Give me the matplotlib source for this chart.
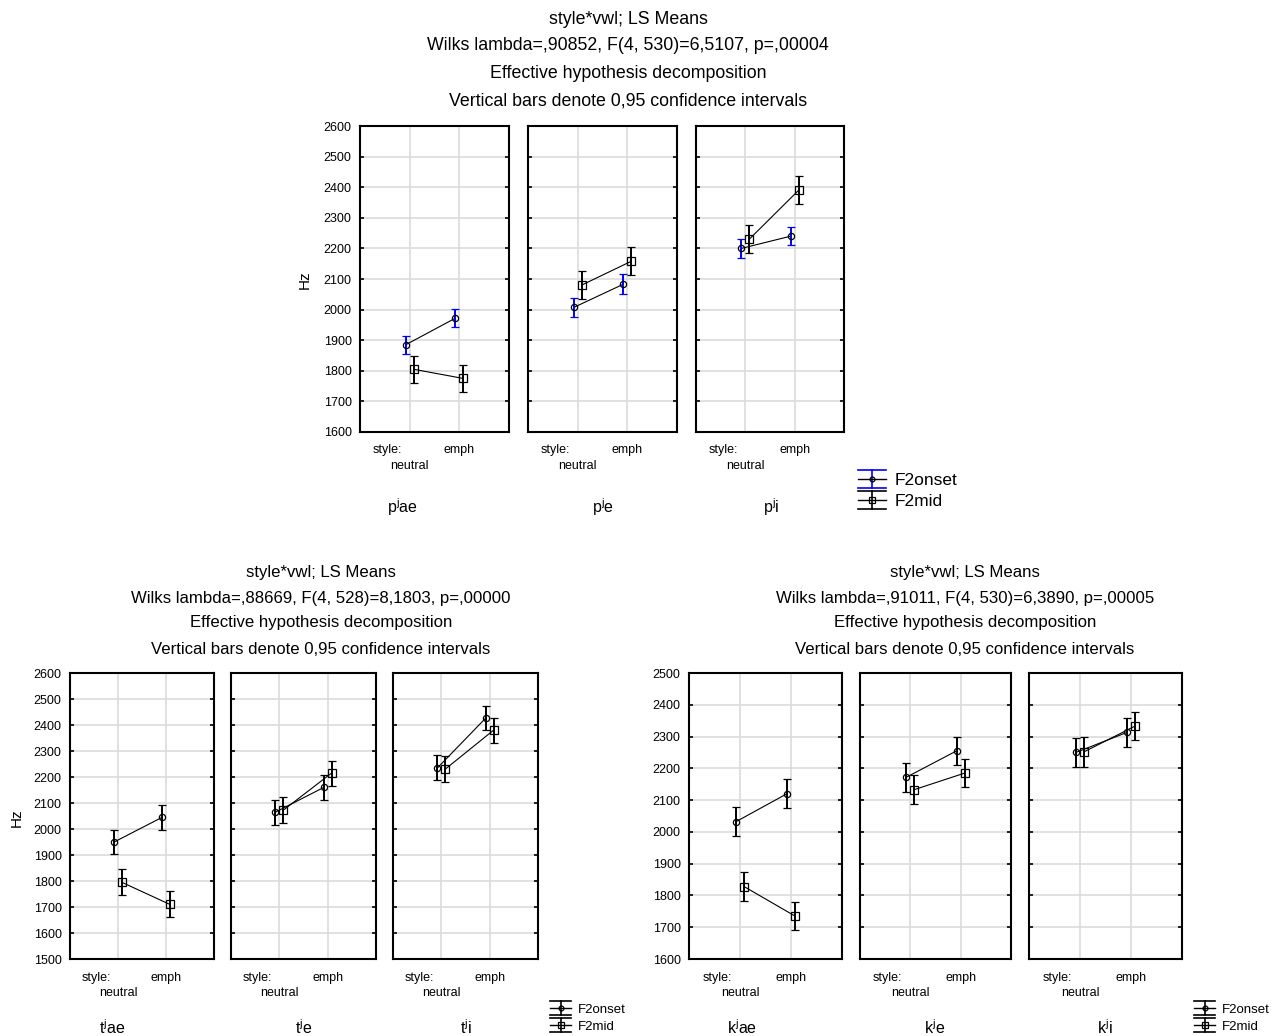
import numpy as np
import matplotlib.pyplot as plt
from matplotlib.legend_handler import HandlerBase
from matplotlib.lines import Line2D

plt.rcParams['font.family'] = ['Liberation Sans', 'DejaVu Sans']
plt.rcParams['mathtext.fontset'] = 'custom'
plt.rcParams['mathtext.rm'] = 'Liberation Sans'

styles = ['neutral', 'emph']
series = ['F2onset', 'F2mid']

# p group
p_vowels = [r'$\mathregular{p^jae}$', r'$\mathregular{p^je}$', r'$\mathregular{p^j i}$']
p_onset = [[1885, 1972], [2007, 2083], [2200, 2240]]
p_onset_ci = [[30, 30], [30, 32], [30, 30]]
p_mid = [[1805, 1775], [2080, 2158], [2230, 2390]]
p_mid_ci = [[45, 45], [45, 45], [45, 45]]
p_title = ['style*vwl; LS Means',
           'Wilks lambda=,90852, F(4, 530)=6,5107, p=,00004',
           'Effective hypothesis decomposition',
           'Vertical bars denote 0,95 confidence intervals']

# t group
t_vowels = [r'$\mathregular{t^jae}$', r'$\mathregular{t^je}$', r'$\mathregular{t^ji}$']
t_onset = [[1950, 2045], [2065, 2160], [2235, 2427]]
t_onset_ci = [[47, 48], [48, 48], [48, 48]]
t_mid = [[1795, 1710], [2072, 2215], [2230, 2380]]
t_mid_ci = [[50, 50], [50, 48], [50, 48]]
t_title = ['style*vwl; LS Means',
           'Wilks lambda=,88669, F(4, 528)=8,1803, p=,00000',
           'Effective hypothesis decomposition',
           'Vertical bars denote 0,95 confidence intervals']

# k group
k_vowels = [r'$\mathregular{k^jae}$', r'$\mathregular{k^je}$', r'$\mathregular{k^j i}$']
k_onset = [[2032, 2120], [2172, 2255], [2250, 2313]]
k_onset_ci = [[45, 45], [45, 45], [45, 45]]
k_mid = [[1828, 1735], [2133, 2185], [2252, 2333]]
k_mid_ci = [[45, 45], [45, 45], [48, 45]]
k_title = ['style*vwl; LS Means',
           'Wilks lambda=,91011, F(4, 530)=6,3890, p=,00005',
           'Effective hypothesis decomposition',
           'Vertical bars denote 0,95 confidence intervals']

W, H = 1277, 1036
fig = plt.figure(figsize=(W / 100, H / 100), dpi=100)


def fx(px):
    return px / W


def fy(py):
    return 1 - py / H


class ErrHandler(HandlerBase):
    # legend symbol: wide caps, vertical bar, marker on a line
    def __init__(self, color, marker, ms):
        super().__init__()
        self.color = color
        self.marker = marker
        self.ms = ms

    def create_artists(self, legend, orig, xd, yd, width, height, fontsize, trans):
        cy = height / 2 - yd
        x0, x1 = -xd, -xd + width
        cx = (x0 + x1) / 2
        arts = []
        for dy in (-height * 0.75, height * 0.75):
            arts.append(Line2D([x0, x1], [cy + dy, cy + dy], color=self.color, lw=1.2))
        arts.append(Line2D([cx, cx], [cy - height * 0.75, cy + height * 0.75], color=self.color, lw=1.2))
        arts.append(Line2D([x0, x1], [cy, cy], color='black', lw=1.0))
        arts.append(Line2D([cx], [cy], color='black', marker=self.marker, ms=self.ms,
                           mfc='none', mew=0.9))
        for a in arts:
            a.set_transform(trans)
        return arts


def draw_group(lefts, widths, top, bottom, ylim, onset, onset_ci, mid, mid_ci,
               vowels, label_x, label_y, onset_col, ylabel_pos, title, title_x,
               title_y, title_fs, leg_pos, leg_fs, tick_fs):
    axes = []
    for i in range(3):
        ax = fig.add_axes([fx(lefts[i]), fy(bottom), fx(widths[i]), (bottom - top) / H])
        x = np.arange(2)
        ax.plot(x - 0.08, onset[i], color='black', lw=0.8, zorder=3)
        ax.errorbar(x - 0.08, onset[i], yerr=onset_ci[i], fmt='o', ms=4.5, mfc='none',
                    mec='black', mew=0.9, ecolor=onset_col, elinewidth=1.4,
                    capsize=3, capthick=1.4, zorder=4)
        ax.plot(x + 0.08, mid[i], color='black', lw=0.8, zorder=3)
        ax.errorbar(x + 0.08, mid[i], yerr=mid_ci[i], fmt='s', ms=6, mfc='none',
                    mec='black', mew=0.9, ecolor='black', elinewidth=1.4,
                    capsize=3, capthick=1.4, zorder=4)
        ax.set_xlim(-1, 2)
        ax.set_ylim(*ylim)
        ax.set_yticks(np.arange(ylim[0], ylim[1] + 1, 100))
        # major ticks: grid + "neutral" on the second row
        ax.set_xticks(x)
        ax.set_xticklabels([styles[0], ''], fontsize=tick_fs)
        # minor ticks: "style:" and "emph" on the first row
        ax.xaxis.remove_overlapping_locs = False
        ax.set_xticks([-0.45, 1], minor=True)
        ax.set_xticklabels(['style:', styles[1]], minor=True, fontsize=tick_fs)
        ax.tick_params(axis='x', which='major', length=0, pad=20)
        ax.tick_params(axis='x', which='minor', length=0, pad=9)
        ax.tick_params(axis='y', direction='in', length=3, width=1.2, right=True,
                       labelsize=tick_fs, pad=6)
        if i > 0:
            ax.tick_params(axis='y', labelleft=False)
        ax.grid(True, which='major', color='#dcdcdc', lw=1.2)
        ax.set_axisbelow(True)
        for s in ax.spines.values():
            s.set_linewidth(1.5)
        fig.text(fx(label_x[i]), fy(label_y), vowels[i], ha='center', va='center',
                 fontsize=tick_fs + 2.5)
        axes.append(ax)
    if ylabel_pos is not None:
        fig.text(fx(ylabel_pos[0]), fy(ylabel_pos[1]), 'Hz', rotation=90,
                 ha='center', va='center', fontsize=tick_fs + 2)
    for j, line in enumerate(title):
        fig.text(fx(title_x), fy(title_y[j]), line, ha='center', va='center',
                 fontsize=title_fs)
    handles = [Line2D([], []), Line2D([], [])]
    fig.legend(handles, series, loc='center left', frameon=False,
               bbox_to_anchor=(fx(leg_pos[0]), fy(leg_pos[1])),
               handler_map={handles[0]: ErrHandler(onset_col, 'o', 3.5),
                            handles[1]: ErrHandler('black', 's', 4.5)},
               fontsize=leg_fs, handlelength=1.6, handletextpad=0.5,
               labelspacing=0.35, borderpad=0, borderaxespad=0)
    return axes


draw_group([360, 528, 696], [149, 149, 148], 126, 432, (1600, 2600),
           p_onset, p_onset_ci, p_mid, p_mid_ci, p_vowels, [403, 603, 771], 507,
           'blue', (305, 280), p_title, 628, [20, 46, 73, 101], 12.8, (858, 491), 12.5, 9)

draw_group([70, 231, 393], [144, 145, 145], 673, 959, (1500, 2600),
           t_onset, t_onset_ci, t_mid, t_mid_ci, t_vowels, [112, 304, 466], 1028,
           'black', (17, 818), t_title, 321, [573, 598, 623, 649], 12.1, (550, 1018), 9.5, 9)

draw_group([689, 860, 1029], [153, 151, 153], 673, 959, (1600, 2500),
           k_onset, k_onset_ci, k_mid, k_mid_ci, k_vowels, [742, 935, 1105], 1028,
           'black', None, k_title, 965, [573, 598, 623, 649], 12.1, (1194, 1018), 9.5, 9)

fig.savefig('out.png', dpi=100)
